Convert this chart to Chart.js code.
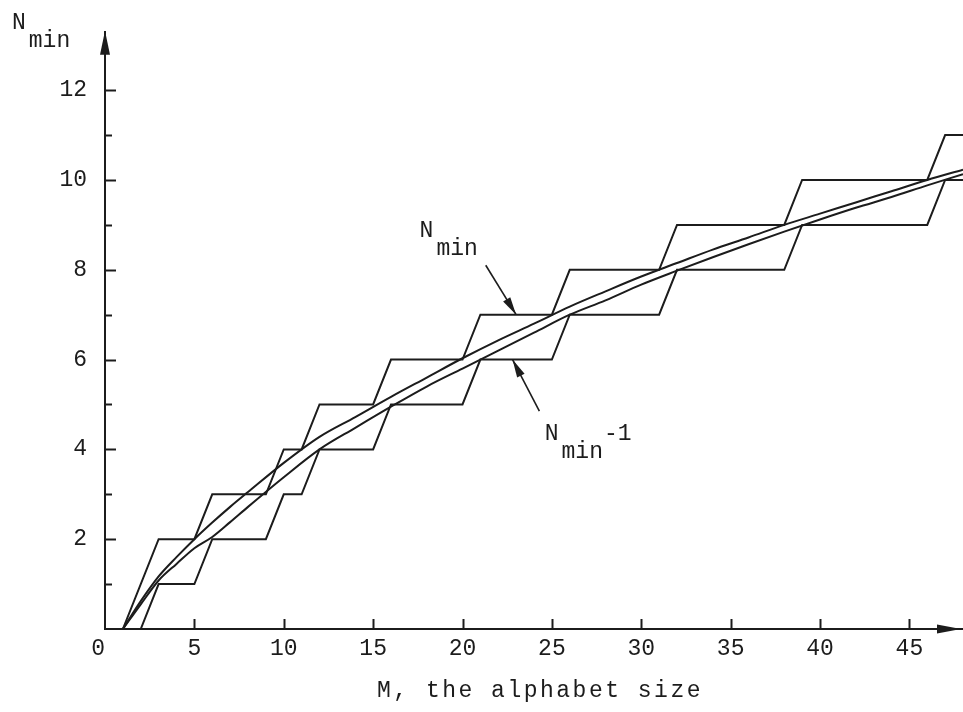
<!DOCTYPE html>
<html>
<head>
<meta charset="utf-8">
<script src="https://cdn.jsdelivr.net/npm/chart.js@4.4.1/dist/chart.umd.min.js"></script>
<style>
  html, body { margin: 0; padding: 0; background: #fff; }
  #wrap { width: 963px; height: 712px; position: relative; }
</style>
</head>
<body>
<div id="wrap"><canvas id="nminChart"></canvas></div>
<script>
// staircase corners, N_min
const stepUpperM = [1, 3, 5, 6, 9, 10, 11, 12, 15, 16, 20, 21, 25, 26, 31, 32, 38, 39, 46, 47, 48];
const stepUpperN = [0, 2, 2, 3, 3, 4, 4, 5, 5, 6, 6, 7, 7, 8, 8, 9, 9, 10, 10, 11, 11];
// staircase corners, N_min - 1
const stepLowerM = [2, 3, 5, 6, 9, 10, 11, 12, 15, 16, 20, 21, 25, 26, 31, 32, 38, 39, 46, 47, 48];
const stepLowerN = [0, 1, 1, 2, 2, 3, 3, 4, 4, 5, 5, 6, 6, 7, 7, 8, 8, 9, 9, 10, 10];
// the two smooth curves
const curveM = [1, 2, 3, 4, 5, 6, 7, 8, 10, 12, 14, 16, 18, 20, 22, 24, 26, 28, 30, 32, 34, 36, 38, 40, 42, 44, 46, 48];
const curveUpperN = [0, 0.62, 1.17, 1.6, 2.0, 2.37, 2.72, 3.05, 3.7, 4.28, 4.72, 5.17, 5.6, 6.03, 6.43, 6.8, 7.18, 7.52, 7.85, 8.15, 8.45, 8.72, 9.0, 9.25, 9.5, 9.75, 10.0, 10.23];
const curveLowerN = [0, 0.55, 1.08, 1.45, 1.8, 2.05, 2.38, 2.72, 3.38, 4.0, 4.48, 4.95, 5.4, 5.8, 6.2, 6.6, 7.0, 7.32, 7.67, 7.98, 8.28, 8.57, 8.85, 9.12, 9.38, 9.62, 9.88, 10.13];
// axis ticks
const xTickValues = [0, 5, 10, 15, 20, 25, 30, 35, 40, 45];
const yTickLabels = [2, 4, 6, 8, 10, 12];
const xTitle = 'M, the alphabet size';

const ink = '#1c1c1c';
const fontFamily = '"Liberation Mono", "DejaVu Sans Mono", monospace';

function toPoints(xs, ys) {
    return xs.map((x, i) => ({ x: x, y: ys[i] }));
}

// arrows + labels pointing at the two staircases
const notes = [
    { main: 'N', sub: 'min', sup: '', at: [17.6, 8.73], from: [21.3, 8.1], to: [23.0, 7.0] },
    { main: 'N', sub: 'min', sup: '-1', at: [24.6, 4.22], from: [24.3, 4.85], to: [22.8, 6.0] }
];

function arrowHead(ctx, x1, y1, x2, y2, len, half) {
    const ang = Math.atan2(y2 - y1, x2 - x1);
    ctx.beginPath();
    ctx.moveTo(x2, y2);
    ctx.lineTo(x2 - len * Math.cos(ang) + half * Math.sin(ang), y2 - len * Math.sin(ang) - half * Math.cos(ang));
    ctx.lineTo(x2 - len * Math.cos(ang) - half * Math.sin(ang), y2 - len * Math.sin(ang) + half * Math.cos(ang));
    ctx.closePath();
    ctx.fill();
}

function subText(ctx, x, y, main, sub, sup) {
    ctx.textAlign = 'left';
    ctx.textBaseline = 'alphabetic';
    ctx.fillText(main, x, y);
    const w = ctx.measureText(main).width;
    ctx.fillText(sub, x + w + 3, y + 18);
    if (sup) {
        const ws = ctx.measureText(sub).width;
        ctx.fillText(sup, x + w + ws + 4, y);
    }
}

const axisDecor = {
    id: 'axisDecor',
    afterDraw(chart) {
        const { ctx, chartArea: a, scales: { x, y } } = chart;
        ctx.save();
        ctx.strokeStyle = ink;
        ctx.fillStyle = ink;
        ctx.lineWidth = 2;

        // inward tick marks on y
        for (let v = 1; v <= 12; v++) {
            const py = Math.round(y.getPixelForValue(v)) + 0.5;
            const len = v % 2 === 0 ? 11 : 7;
            ctx.beginPath();
            ctx.moveTo(a.left, py);
            ctx.lineTo(a.left + len, py);
            ctx.stroke();
        }
        // inward tick marks on x
        xTickValues.forEach(v => {
            if (v === 0) return;
            const px = Math.round(x.getPixelForValue(v)) + 0.5;
            ctx.beginPath();
            ctx.moveTo(px, a.bottom);
            ctx.lineTo(px, a.bottom - 10);
            ctx.stroke();
        });

        // axis arrow heads
        arrowHead(ctx, a.left, a.bottom, a.right - 2, a.bottom, 24, 4.5);
        arrowHead(ctx, a.left, a.bottom, a.left, a.top - 1, 24, 5);

        ctx.font = '23px ' + fontFamily;
        // x axis title, typewriter spacing
        ctx.textAlign = 'center';
        ctx.textBaseline = 'alphabetic';
        ctx.letterSpacing = '2.5px';
        ctx.fillText(xTitle, (a.left + a.right) / 2 + 6, 697);
        ctx.letterSpacing = '0px';

        // y axis title
        subText(ctx, 12, 29, 'N', 'min', '');

        // annotations
        notes.forEach(n => {
            const fx = x.getPixelForValue(n.from[0]), fy = y.getPixelForValue(n.from[1]);
            const tx = x.getPixelForValue(n.to[0]), ty = y.getPixelForValue(n.to[1]);
            ctx.lineWidth = 1.6;
            ctx.beginPath();
            ctx.moveTo(fx, fy);
            ctx.lineTo(tx, ty);
            ctx.stroke();
            arrowHead(ctx, fx, fy, tx, ty, 18, 4.2);
            subText(ctx, x.getPixelForValue(n.at[0]), y.getPixelForValue(n.at[1]), n.main, n.sub, n.sup);
        });
        ctx.restore();
    }
};

const lineStyle = {
    borderColor: ink,
    borderWidth: 2,
    pointRadius: 0,
    fill: false,
    showLine: true
};

const chart = new Chart(document.getElementById('nminChart'), {
    type: 'scatter',
    data: {
        datasets: [
            Object.assign({ label: 'N_min steps', data: toPoints(stepUpperM, stepUpperN), tension: 0 }, lineStyle),
            Object.assign({ label: 'N_min-1 steps', data: toPoints(stepLowerM, stepLowerN), tension: 0 }, lineStyle),
            Object.assign({ label: 'N_min curve', data: toPoints(curveM, curveUpperN), cubicInterpolationMode: 'monotone' }, lineStyle),
            Object.assign({ label: 'N_min-1 curve', data: toPoints(curveM, curveLowerN), cubicInterpolationMode: 'monotone' }, lineStyle)
        ]
    },
    options: {
        responsive: true,
        maintainAspectRatio: false,
        animation: false,
        layout: { padding: { top: 24, left: 0, right: 0, bottom: 0 } },
        plugins: {
            legend: { display: false },
            tooltip: { enabled: false }
        },
        scales: {
            x: {
                type: 'linear',
                min: 0,
                max: 48,
                afterFit: function (scale) { scale.height = 83; },
                grid: { display: false, drawTicks: false },
                border: { display: true, color: ink, width: 2 },
                ticks: {
                    stepSize: 5,
                    autoSkip: false,
                    maxRotation: 0,
                    padding: 6,
                    color: ink,
                    font: { family: fontFamily, size: 23 },
                    // the origin label sits just left of the axis in the original
                    callback: v => v === 0 ? '0\u00a0' : (xTickValues.includes(v) ? String(v) : null)
                }
            },
            y: {
                type: 'linear',
                min: 0,
                max: 13.3,
                afterFit: function (scale) { scale.width = 105; },
                grid: { display: false, drawTicks: false },
                border: { display: true, color: ink, width: 2 },
                ticks: {
                    stepSize: 1,
                    autoSkip: false,
                    padding: 18,
                    color: ink,
                    font: { family: fontFamily, size: 23 },
                    callback: v => yTickLabels.includes(v) ? String(v) : ''
                }
            }
        }
    },
    plugins: [axisDecor]
});
</script>
</body>
</html>
